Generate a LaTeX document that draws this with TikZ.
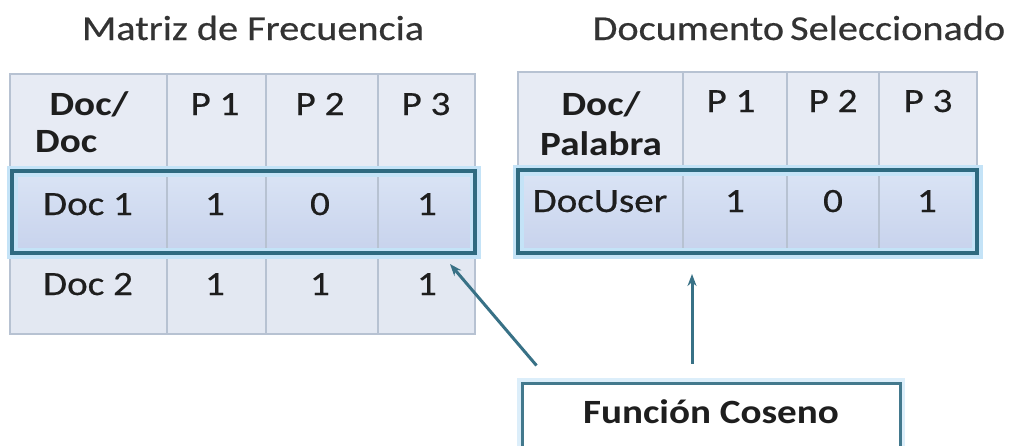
\documentclass[tikz,border=0pt]{standalone}
\usepackage{fontspec}
\setmainfont{Carlito}[FakeStretch=1.15, UprightFeatures={FakeBold=0.5}]
\usetikzlibrary{arrows.meta}

\definecolor{hdrfill}{HTML}{E7EBF4}
\definecolor{rowfill}{HTML}{E3E8F2}
\definecolor{seltop}{HTML}{DAE4F5}
\definecolor{selbot}{HTML}{C7D2EC}
\definecolor{gridc}{HTML}{B7C2D2}
\definecolor{framec}{HTML}{2E6A80}
\definecolor{glowc}{HTML}{C4E3F7}
\definecolor{txt}{HTML}{1E1E1E}

\begin{document}
\begin{tikzpicture}[x=1pt,y=-1pt,
  cell/.style={font=\fontsize{34}{37}\selectfont, text=txt, anchor=base, inner sep=0pt},
  hcell/.style={cell, font=\fontsize{34}{37}\selectfont\bfseries},
  title/.style={cell, font=\fontsize{35}{38}\selectfont, text=black!80},
  gridline/.style={draw=gridc, line width=1.5pt},
  selbox/.style={draw=framec, line width=4pt, inner sep=0pt,
    preaction={draw=glowc, line width=11pt}},
  fcbox/.style={draw=framec!90, line width=3pt, fill=white, inner sep=0pt,
    text height=40pt, text depth=37pt, minimum width=378pt,
    font=\fontsize{34}{37}\selectfont\bfseries, text=txt,
    preaction={draw=glowc!60, line width=10pt}},
  link/.style={draw=framec!95, line width=3pt, -{Stealth[length=12pt,width=9pt]}}]

\useasboundingbox[fill=white] (0,0) rectangle (1010,445);

% titles
\node[title] (t1) at (253,40) {Matriz de Frecuencia};
\node[title] (t2) at (799,40) {Documento\kern-3pt\ Seleccionado};

% ---------- frequency matrix ----------
\fill[hdrfill] (10,74) rectangle (475,334);
\fill[rowfill] (10,253) rectangle (475,334);
\shade[top color=seltop, bottom color=selbot] (10,171) rectangle (475,253);
\draw[gridline] (10,74) rectangle (475,334);
\foreach \x in {167,266,378} \draw[gridline] (\x,74) -- (\x,334);
\foreach \y in {171,253} \draw[gridline] (10,\y) -- (475,\y);

\node[selbox, minimum width=463pt, minimum height=82pt] (selL) at (243.5,212) {};

\node[hcell] (lh0a) at (89,115) {Doc/};
\node[hcell, anchor=base west] (lh0b) at (35,152) {Doc};
\node[cell] (lh1) at (215,115) {P 1};
\node[cell] (lh2) at (320,115) {P 2};
\node[cell] (lh3) at (426,115) {P 3};

\node[cell] (l10) at (88,215) {Doc 1};
\node[cell] (l11) at (215,215) {1};
\node[cell] (l12) at (320,215) {0};
\node[cell] (l13) at (427,215) {1};

\node[cell] (l20) at (88,295) {Doc 2};
\node[cell] (l21) at (215,295) {1};
\node[cell] (l22) at (320,295) {1};
\node[cell] (l23) at (427,295) {1};

% ---------- selected document ----------
\fill[hdrfill] (518,72) rectangle (977,253);
\shade[top color=seltop, bottom color=selbot] (518,170) rectangle (977,253);
\draw[gridline] (518,72) rectangle (977,253);
\foreach \x in {683,787,879} \draw[gridline] (\x,72) -- (\x,253);

\node[selbox, minimum width=459pt, minimum height=83pt] (selR) at (747.5,211.5) {};

\node[hcell] (rh0a) at (601,115) {Doc/};
\node[hcell] (rh0b) at (601,155) {Palabra};
\node[cell] (rh1) at (731,112) {P 1};
\node[cell] (rh2) at (833,112) {P 2};
\node[cell] (rh3) at (928,112) {P 3};

\node[cell] (r10) at (600,212) {DocUser};
\node[cell] (r11) at (735,212) {1};
\node[cell] (r12) at (833,212) {0};
\node[cell] (r13) at (927,212) {1};

% ---------- cosine function ----------
\node[fcbox, anchor=base] (fc) at (711,423) {Función Coseno};

\coordinate (fcA) at ([shift={(16,-16)}]fc.north west);
\coordinate (fcB) at ([shift={(-19,-18)}]fc.north);
\coordinate (tipL) at ([shift={(-27,9)}]selL.south east);
\coordinate (tipR) at ([shift={(-55.5,19)}]selR.south);

\draw[link] (fcA) -- (tipL);
\draw[link] (fcB) -- (tipR);
\end{tikzpicture}
\end{document}
